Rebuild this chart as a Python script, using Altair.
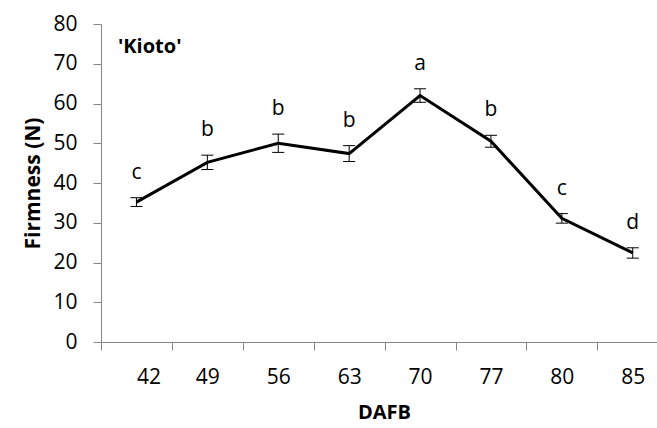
import json
import altair as alt
import pandas as pd

# ---- data ----
dafb = ["42", "49", "56", "63", "70", "77", "80", "85"]
firmness = [35.2, 45.2, 50.0, 47.4, 62.0, 50.5, 31.1, 22.4]
err = [1.1, 1.8, 2.3, 2.0, 1.7, 1.5, 1.2, 1.3]
letters = ["c", "b", "b", "b", "a", "b", "c", "d"]
cultivar = ["'Kioto'"]
cultivar_pos = [0.24]
cultivar_val = [74.2]
y_ticks = [0, 10, 20, 30, 40, 50, 60, 70, 80]

FONT = "Open Sans"
AX = "#868686"

df = pd.DataFrame({
    "dafb": dafb,
    "pos": [i + 0.5 for i in range(len(dafb))],
    "firm": firmness,
    "err": err,
    "letter": letters,
})

xscale = alt.Scale(domain=[0, 7.842], nice=False, zero=False)
yscale = alt.Scale(domain=[0, 80], nice=False)

xaxis = alt.Axis(
    title="DAFB", values=list(range(len(dafb))),
    labelExpr=f"{json.dumps(dafb)}[datum.value]",
    labelOffset=35.45, labelPadding=16, tickSize=8,
    titleX=283, titlePadding=15, labelOverlap=False, titleFontSize=20,
)
yaxis = alt.Axis(
    title="Firmness (N)", values=y_ticks,
    tickSize=8, labelPadding=16, titlePadding=9, labelOverlap=False,
    titleFontSize=21,
)


def X(field):
    return alt.X(field, scale=xscale, axis=xaxis)


def Y(field):
    return alt.Y(field, scale=yscale, axis=yaxis)


base = alt.Chart(df).transform_calculate(
    lo="datum.firm - datum.err",
    hi="datum.firm + datum.err",
    capL="datum.pos - 0.085",
    capR="datum.pos + 0.085",
)

line = base.mark_line(color="black", strokeWidth=3).encode(
    x=X("pos:Q"), y=Y("firm:Q"),
)

bar = base.mark_rule(color="black", strokeWidth=1).encode(
    x=X("pos:Q"), y=Y("lo:Q"), y2="hi:Q",
)
cap_hi = base.mark_rule(color="black", strokeWidth=1).encode(
    x=X("capL:Q"), x2="capR:Q", y=Y("hi:Q"),
)
cap_lo = base.mark_rule(color="black", strokeWidth=1).encode(
    x=X("capL:Q"), x2="capR:Q", y=Y("lo:Q"),
)

lett = base.mark_text(
    font=FONT, fontSize=21, color="black", baseline="alphabetic", dy=-19,
).encode(x=X("pos:Q"), y=Y("hi:Q"), text="letter:N")

lab_df = pd.DataFrame({"t": cultivar, "x": cultivar_pos, "y": cultivar_val})
lab = alt.Chart(lab_df).mark_text(
    font=FONT, fontSize=20, fontWeight="bold", color="black",
    align="left", baseline="middle",
).encode(x=X("x:Q"), y=Y("y:Q"), text="t:N")

chart = alt.layer(line, bar, cap_hi, cap_lo, lett, lab).properties(
    width=556, height=318,
    autosize=alt.AutoSizeParams(type="none"),
    padding={"left": 101, "top": 24, "right": 0, "bottom": 86},
    background="white",
).configure_view(stroke=None).configure_axis(
    grid=False, domainColor=AX, tickColor=AX, labelColor="black",
    labelFont=FONT, labelFontSize=21, titleFont=FONT,
    titleFontWeight="bold", titleColor="black",
)

chart.save("out.html", embed_options={"renderer": "svg", "actions": False})
